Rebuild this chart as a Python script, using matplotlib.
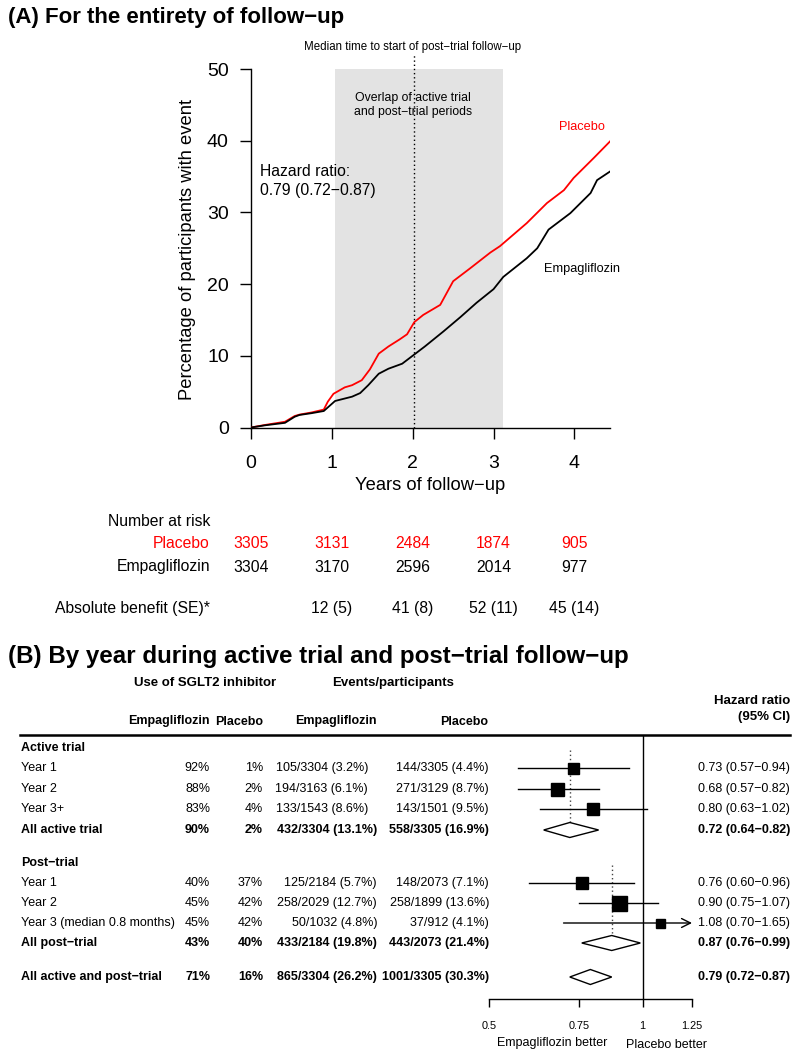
import matplotlib
matplotlib.use("Agg")
import matplotlib.pyplot as plt
import matplotlib.transforms as mtransforms
from matplotlib.patches import Polygon
from matplotlib.ticker import NullLocator, FixedLocator, FixedFormatter

plt.rcParams["font.family"] = ["Liberation Sans", "DejaVu Sans"]

# ---------------------------------------------------------------------
# Data: panel A (cumulative incidence)
# ---------------------------------------------------------------------
PLACEBO_X = [0, 0.17, 0.42, 0.54, 0.60, 0.75, 0.90, 0.95, 1.02, 1.16, 1.25, 1.37,
             1.47, 1.58, 1.70, 1.84, 1.93, 2.02, 2.13, 2.34, 2.50, 2.71, 2.96,
             3.08, 3.41, 3.66, 3.87, 3.99, 4.24, 4.44]
PLACEBO_Y = [0, 0.35, 0.8, 1.6, 1.8, 2.1, 2.5, 3.6, 4.7, 5.6, 5.9, 6.6,
             8.1, 10.3, 11.3, 12.3, 13.0, 14.7, 15.7, 17.1, 20.4, 22.2, 24.4,
             25.3, 28.5, 31.3, 33.1, 34.8, 37.6, 39.9]

EMPA_X = [0, 0.17, 0.42, 0.54, 0.60, 0.75, 0.90, 1.04, 1.25, 1.35, 1.45, 1.58,
          1.70, 1.87, 2.01, 2.15, 2.38, 2.59, 2.79, 3.00, 3.12, 3.41, 3.54,
          3.68, 3.95, 4.20, 4.28, 4.44]
EMPA_Y = [0, 0.3, 0.65, 1.5, 1.75, 2.0, 2.3, 3.7, 4.3, 4.8, 5.9, 7.5,
          8.2, 8.9, 10.1, 11.3, 13.4, 15.4, 17.4, 19.3, 21.0, 23.6, 25.0,
          27.6, 29.9, 32.7, 34.5, 35.7]

OVERLAP_START, OVERLAP_END = 1.04, 3.12
MEDIAN_POST_START = 2.01

RISK_YEARS = [0, 1, 2, 3, 4]
PLACEBO_AT_RISK = [3305, 3131, 2484, 1874, 905]
EMPA_AT_RISK = [3304, 3170, 2596, 2014, 977]
BENEFIT = [None, 12, 41, 52, 45]
BENEFIT_SE = [None, 5, 8, 11, 14]

# ---------------------------------------------------------------------
# Data: panel B (forest plot)
# ---------------------------------------------------------------------
ROW_LABELS = ["Active trial", "Year 1", "Year 2", "Year 3+", "All active trial",
              "Post\u2212trial", "Year 1", "Year 2", "Year 3 (median 0.8 months)",
              "All post\u2212trial", "All active and post\u2212trial"]
ROW_KIND = ["head", "year", "year", "year", "total",
            "head", "year", "year", "year", "total", "total"]
EMPA_USE = [None, 92, 88, 83, 90, None, 40, 45, 45, 43, 71]
PLAC_USE = [None, 1, 2, 4, 2, None, 37, 42, 42, 40, 16]
EMPA_EVENTS = [None, 105, 194, 133, 432, None, 125, 258, 50, 433, 865]
EMPA_N = [None, 3304, 3163, 1543, 3304, None, 2184, 2029, 1032, 2184, 3304]
PLAC_EVENTS = [None, 144, 271, 143, 558, None, 148, 258, 37, 443, 1001]
PLAC_N = [None, 3305, 3129, 1501, 3305, None, 2073, 1899, 912, 2073, 3305]
HR = [None, 0.73, 0.68, 0.80, 0.72, None, 0.76, 0.90, 1.08, 0.87, 0.79]
HR_LO = [None, 0.57, 0.57, 0.63, 0.64, None, 0.60, 0.75, 0.70, 0.76, 0.72]
HR_HI = [None, 0.94, 0.82, 1.02, 0.82, None, 0.96, 1.07, 1.65, 0.99, 0.87]

# layout (pixels on an 800 x 1060 page)
ROW_Y = [748, 768, 789, 809, 830, 863, 883, 903, 923, 943, 977]
BOX_PX = [0, 11, 13, 12, 0, 0, 12, 15, 9, 0, 0]
EVENT_RIGHT = [0, 368, 368, 368, 377, 0, 377, 377, 377, 377, 377]

W, H = 800, 1060
MINUS = "\u2212"


def box(left, top, right, bottom):
    return [left / W, 1 - bottom / H, (right - left) / W, (bottom - top) / H]


fig = plt.figure(figsize=(W / 100, H / 100), dpi=100)

# ---------------------------------------------------------------------
# Panel A
# ---------------------------------------------------------------------
ax = fig.add_axes(box(251, 69, 610, 427.5))
ax.set_xlim(0, 4.44)
ax.set_ylim(0, 50)
ax.axvspan(OVERLAP_START, OVERLAP_END, color="#e3e3e3", lw=0, zorder=0)
ax.plot([MEDIAN_POST_START, MEDIAN_POST_START], [0, 52.3], color="black",
        ls=(0, (1, 2)), lw=1, clip_on=False, zorder=1)
ax.plot(PLACEBO_X, PLACEBO_Y, color="red", lw=1.3, zorder=3)
ax.plot(EMPA_X, EMPA_Y, color="black", lw=1.3, zorder=3)

for side in ("top", "right"):
    ax.spines[side].set_visible(False)
for side in ("left", "bottom"):
    ax.spines[side].set_linewidth(1)
ax.set_xticks(RISK_YEARS)
ax.set_yticks(range(0, 51, 10))
ax.tick_params(axis="x", length=8, width=1, labelsize=14, pad=12)
ax.tick_params(axis="y", length=8, width=1, labelsize=14, pad=8)

# page overlay in pixel coordinates, drawn above the plot axes
page = fig.add_axes([0, 0, 1, 1], zorder=10)
page.set_xlim(0, W)
page.set_ylim(H, 0)
page.axis("off")

page.text(8, 17, f"(A) For the entirety of follow{MINUS}up", fontsize=16,
          fontweight="bold", ha="left", va="center")
page.text(187, 249, "Percentage of participants with event", rotation=90,
          fontsize=13.2, ha="center", va="center")
page.text(430, 485, f"Years of follow{MINUS}up", fontsize=13.2,
          ha="center", va="center")

page.text(413, 47, f"Median time to start of post{MINUS}trial follow{MINUS}up",
          fontsize=8.3, ha="center", va="center")
page.text(413, 105, f"Overlap of active trial\nand post{MINUS}trial periods",
          fontsize=8.8, ha="center", va="center", linespacing=1.3)
page.text(582, 127, "Placebo", color="red", fontsize=9.2, ha="center", va="center")
page.text(582, 269, "Empagliflozin", fontsize=9.2, ha="center", va="center")
page.text(260, 181, f"Hazard ratio:\n0.79 (0.72{MINUS}0.87)", fontsize=11.3,
          ha="left", va="center", linespacing=1.35)

# number at risk table
risk_tr = mtransforms.blended_transform_factory(ax.transData, page.transData)
page.text(210, 521, "Number at risk", fontsize=11.3, ha="right", va="center")
page.text(210, 543, "Placebo", fontsize=11.3, ha="right", va="center", color="red")
page.text(210, 567, "Empagliflozin", fontsize=11.3, ha="right", va="center")
page.text(210, 608, "Absolute benefit (SE)*", fontsize=11.3, ha="right", va="center")
for yr, p, e, b, se in zip(RISK_YEARS, PLACEBO_AT_RISK, EMPA_AT_RISK, BENEFIT, BENEFIT_SE):
    page.text(yr, 543, str(p), transform=risk_tr, fontsize=11.3, color="red",
              ha="center", va="center")
    page.text(yr, 567, str(e), transform=risk_tr, fontsize=11.3,
              ha="center", va="center")
    if b is not None:
        page.text(yr, 608, f"{b} ({se})", transform=risk_tr, fontsize=11.3,
                  ha="center", va="center")

# ---------------------------------------------------------------------
# Panel B
# ---------------------------------------------------------------------
page.text(8, 657, f"(B) By year during active trial and post{MINUS}trial follow{MINUS}up",
          fontsize=17.4, fontweight="bold", ha="left", va="center")

HB = dict(fontsize=9.5, fontweight="bold", va="center")
HB2 = dict(fontsize=9, fontweight="bold", va="center")
page.text(205, 683, "Use of SGLT2 inhibitor", ha="center", **HB)
page.text(393, 683, "Events/participants", ha="center", **HB)
page.text(210, 721, "Empagliflozin", ha="right", **HB2)
page.text(263, 722, "Placebo", ha="right", **HB2)
page.text(377, 721, "Empagliflozin", ha="right", **HB2)
page.text(488, 722, "Placebo", ha="right", **HB2)
page.text(790, 709, "Hazard ratio\n(95% CI)", ha="right", linespacing=1.45, **HB)
page.plot([20, 790], [735, 735], color="black", lw=1.8)

for i, label in enumerate(ROW_LABELS):
    y = ROW_Y[i]
    bold = "bold" if ROW_KIND[i] in ("head", "total") else "normal"
    kw = dict(fontsize=9, fontweight=bold, va="center")
    page.text(21, y, label, ha="left", **kw)
    if HR[i] is None:
        continue
    page.text(210, y, f"{EMPA_USE[i]}%", ha="right", **kw)
    page.text(263, y, f"{PLAC_USE[i]}%", ha="right", **kw)
    ep = 100 * EMPA_EVENTS[i] / EMPA_N[i]
    pp = 100 * PLAC_EVENTS[i] / PLAC_N[i]
    page.text(EVENT_RIGHT[i], y, f"{EMPA_EVENTS[i]}/{EMPA_N[i]} ({ep:.1f}%)", ha="right", **kw)
    page.text(489, y, f"{PLAC_EVENTS[i]}/{PLAC_N[i]} ({pp:.1f}%)", ha="right", **kw)
    page.text(790, y, f"{HR[i]:.2f} ({HR_LO[i]:.2f}{MINUS}{HR_HI[i]:.2f})", ha="right", **kw)

fx = fig.add_axes(box(489, 735, 692, 999))
fx.set_xscale("log")
fx.set_xlim(0.5, 1.25)
fx.set_ylim(999, 735)
fx.patch.set_visible(False)
for side in ("top", "left", "right"):
    fx.spines[side].set_visible(False)
fx.spines["bottom"].set_linewidth(1)
fx.xaxis.set_major_locator(FixedLocator([0.5, 0.75, 1, 1.25]))
fx.xaxis.set_major_formatter(FixedFormatter(["0.5", "0.75", "1", "1.25"]))
fx.xaxis.set_minor_locator(NullLocator())
fx.set_yticks([])
fx.tick_params(axis="x", length=6, width=1, labelsize=7.8, pad=10)
fx.axvline(1, color="black", lw=1)

# dotted lines at the overall estimates for each period
for idx, first in ((4, 1), (9, 6)):
    fx.plot([HR[idx], HR[idx]], [ROW_Y[first] - 18, ROW_Y[idx] - 7.5],
            color="#444444", ls=(0, (1, 2)), lw=1, zorder=1)

for i in range(len(ROW_LABELS)):
    if HR[i] is None:
        continue
    y = ROW_Y[i]
    if ROW_KIND[i] == "total":
        dia = Polygon([(HR_LO[i], y), (HR[i], y - 7.5), (HR_HI[i], y), (HR[i], y + 7.5)],
                      closed=True, facecolor="white", edgecolor="black", lw=1, zorder=3)
        fx.add_patch(dia)
        continue
    if HR_HI[i] > 1.25:
        fx.annotate("", xy=(1.25, y), xytext=(HR_LO[i], y),
                    arrowprops=dict(arrowstyle="->", lw=1, color="black",
                                    mutation_scale=16, shrinkA=0, shrinkB=0),
                    annotation_clip=False)
    else:
        fx.plot([HR_LO[i], HR_HI[i]], [y, y], color="black", lw=1, zorder=2)
    fx.plot(HR[i], y, marker="s", ms=BOX_PX[i] * 0.72, color="black", zorder=3)

page.text(552, 1043, "Empagliflozin better", fontsize=9, ha="center", va="center")
page.text(667, 1045, "Placebo better", fontsize=9, ha="center", va="center")

fig.savefig("out.png", dpi=100)
